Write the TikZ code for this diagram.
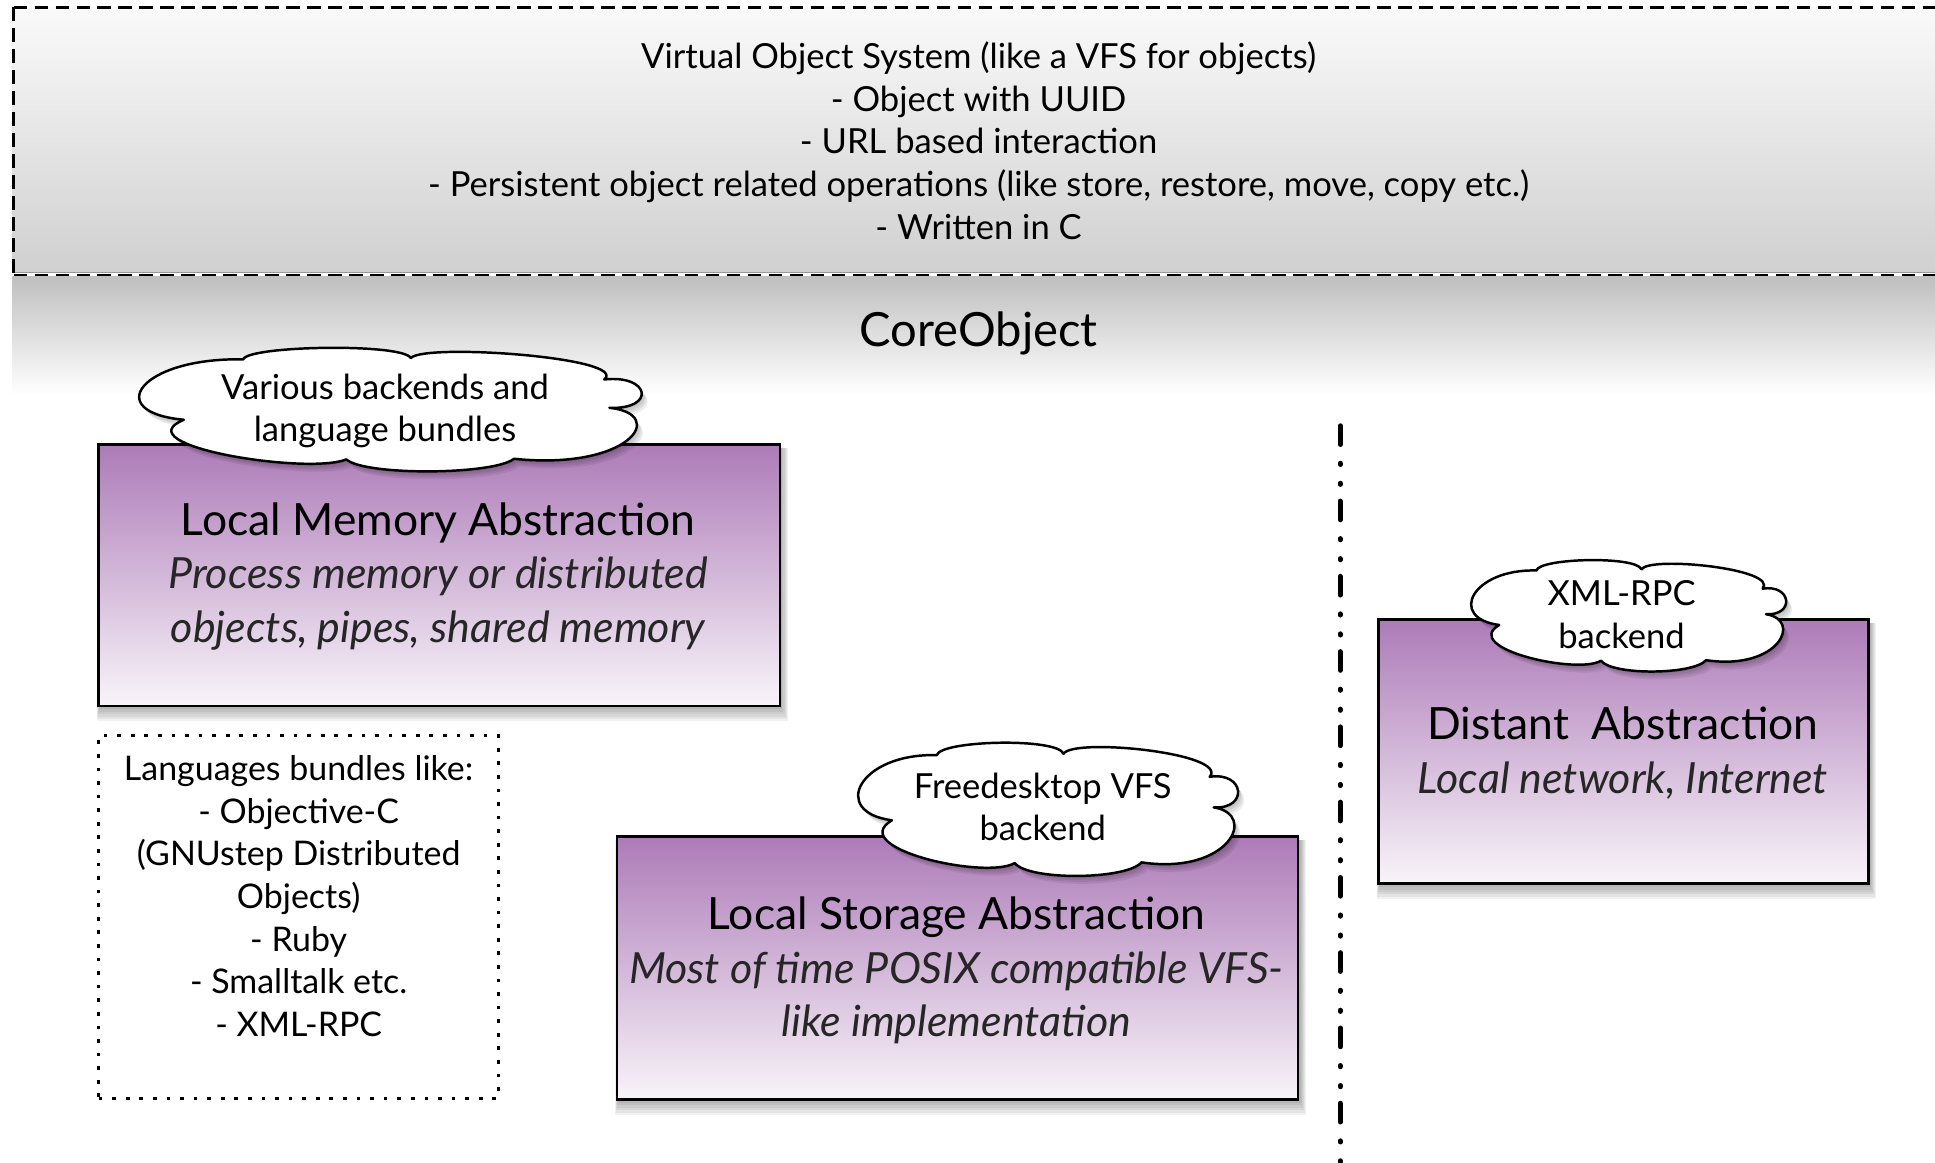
\documentclass[tikz,border=0pt]{standalone}
\usepackage{fontspec}
\setmainfont{Lato}
\usetikzlibrary{calc}
\definecolor{ptop}{HTML}{AD7BB8}
\definecolor{pbot}{HTML}{F8F4F9}
\pgfdeclarelayer{bg}
\pgfsetlayers{bg,main}
\newcommand\itline{\fontsize{17.4pt}{21.75pt}\selectfont\itshape\color{black!85}}
\begin{document}
\begin{tikzpicture}[x=0.5pt,y=-0.5pt,
  txt/.style={align=center,inner sep=0pt,font=\fontsize{14pt}{17.25pt}\selectfont},
  bigtxt/.style={align=center,inner sep=0pt,font=\fontsize{18pt}{21.75pt}\selectfont},
  absbox/.style={draw=black,line width=1pt,top color=ptop,bottom color=pbot,inner sep=0pt},
  boxshade/.style={fill=black,opacity=0.055},
  cloudline/.style={draw=black,fill=white,line width=1pt,line join=round},
  cloudshade/.style={fill=black,fill opacity=0.07},
  topdash/.style={line width=1.2pt,dash pattern=on 5.5pt off 3pt},
  dotbox/.style={draw=black,line width=1pt,dash pattern=on 1.5pt off 4pt},
  divider/.style={line width=2pt,line cap=round,
    dash pattern=on 7.6pt off 7.6pt on 0.5pt off 7.6pt on 0.5pt off 6.7pt},
  cloudpic/.pic={\path[pic actions] (-0.55,-0.82)
     .. controls (-0.53,-1.04) and (0.07,-1.08) .. (0.1,-0.84)
     .. controls (0.15,-1.08) and (0.95,-0.85) .. (0.85,-0.5)
     .. controls (1.03,-0.58) and (1.05,-0.02) .. (0.87,-0.05)
     .. controls (1.1,0.05) and (0.95,0.95) .. (0.5,0.76)
     .. controls (0.42,1.02) and (-0.08,1.03) .. (-0.15,0.77)
     .. controls (-0.3,1.02) and (-1.02,0.55) .. (-0.78,0.14)
     .. controls (-1.1,0.02) and (-0.95,-0.85) .. (-0.55,-0.82) -- cycle;}]
\useasboundingbox (0,0) rectangle (1568,942);

% top layer: Virtual Object System
\shade[top color=gray!4,bottom color=gray!37] (10,6) rectangle (1568,221);
\draw[gray!80,line width=0.6pt] (10,221) -- (1568,221);
\draw[topdash] (11,6) -- (1568,6);
\draw[topdash] (11,223) -- (1568,223);
\draw[topdash] (11,6) -- (11,223);
\node[txt] (vos) at (793,114) {Virtual Object System (like a VFS for objects)\\
 - Object with UUID\\
 - URL based interaction\\
 - Persistent object related operations (like store, restore, move, copy etc.)\\
 - Written in C};

% CoreObject band
\shade[top color=gray!50,bottom color=white] (10,224) rectangle (1568,320);
\node[bigtxt,font=\fontsize{19.1pt}{22pt}\selectfont] (core) at (793,270) {CoreObject};

% Local memory abstraction
\node[absbox,minimum width=276pt,minimum height=106pt] (mem) at (356,466) {};
\begin{pgfonlayer}{bg}
\foreach \k in {1,...,6}
  \fill[boxshade] ($(mem.north west)+(2-0.4*\k,4)$) rectangle ($(mem.south east)+(0.9*\k,1.9*\k)$);
\end{pgfonlayer}
\node[bigtxt] (memtxt) at (355,467) {Local Memory Abstraction\\
 {\itline Process memory or distributed}\\
 {\itline objects, pipes, shared memory}};
\coordinate (c1) at (312,333);
\foreach \k in {1,...,4}
  \pic[cloudshade,xscale=209,yscale=51] at ($(c1)+(1.2*\k,1.6*\k)$) {cloudpic};
\pic[cloudline,xscale=209,yscale=51] at (c1) {cloudpic};
\node[txt] (memcloudtxt) at (c1) {Various backends and\\language bundles};

% language bundles
\node[dotbox,minimum width=162pt,minimum height=147pt] (lang) at (242,743) {};
\node[txt,font=\fontsize{13.75pt}{17.25pt}\selectfont,anchor=north] (langtxt) at (242,612) {Languages bundles like:\\
 - Objective-C\\
 (GNUstep Distributed\\
 Objects)\\
 - Ruby\\
 - Smalltalk etc.\\
 - XML-RPC};

% Local storage abstraction
\node[absbox,minimum width=276pt,minimum height=106.5pt] (sto) at (776,784.5) {};
\begin{pgfonlayer}{bg}
\foreach \k in {1,...,6}
  \fill[boxshade] ($(sto.north west)+(2-0.4*\k,4)$) rectangle ($(sto.south east)+(0.9*\k,1.9*\k)$);
\end{pgfonlayer}
\node[bigtxt] (stotxt) at (775,786.5) {Local Storage Abstraction\\
 {\itline Most of time POSIX compatible VFS-}\\
 {\itline like implementation}};
\coordinate (c2) at (846,657);
\foreach \k in {1,...,4}
  \pic[cloudshade,xscale=158,yscale=55] at ($(c2)+(1.2*\k,1.6*\k)$) {cloudpic};
\pic[cloudline,xscale=158,yscale=55] at (c2) {cloudpic};
\node[txt] (stocloudtxt) at (845,654) {Freedesktop VFS\\backend};

% divider
\coordinate (dtop) at (1086,345);
\coordinate (dbot) at (1086,945);
\draw[divider] (dtop) -- (dbot);

% Distant abstraction
\node[absbox,minimum width=198.5pt,minimum height=107pt] (dist) at (1315.5,609) {};
\begin{pgfonlayer}{bg}
\foreach \k in {1,...,6}
  \fill[boxshade] ($(dist.north west)+(2-0.4*\k,4)$) rectangle ($(dist.south east)+(0.9*\k,1.9*\k)$);
\end{pgfonlayer}
\node[bigtxt] (disttxt) at (1315,610) {Distant\ \ Abstraction\\
 {\itline Local network, Internet}};
\coordinate (c3) at (1317,500);
\foreach \k in {1,...,4}
  \pic[cloudshade,xscale=131,yscale=46] at ($(c3)+(1.2*\k,1.6*\k)$) {cloudpic};
\pic[cloudline,xscale=131,yscale=46] at (c3) {cloudpic};
\node[txt] (distcloudtxt) at (1314,498) {XML-RPC\\backend};
\end{tikzpicture}
\end{document}
